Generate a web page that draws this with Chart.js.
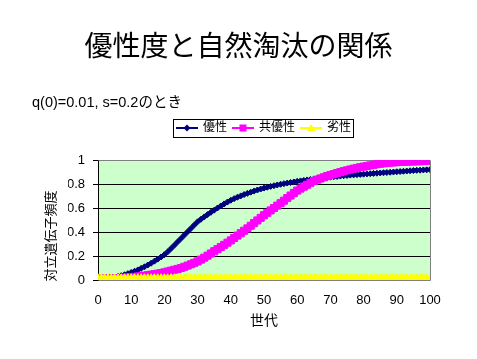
<!DOCTYPE html>
<html><head><meta charset="utf-8">
<script src="https://cdn.jsdelivr.net/npm/chart.js@4.4.1/dist/chart.umd.min.js"></script>
<style>
html,body{margin:0;padding:0;background:#fff;}
#wrap{position:relative;width:477px;height:359px;overflow:hidden;background:#fff;}
#title{position:absolute;left:0;top:30px;width:477px;text-align:center;font-family:"Liberation Sans","Noto Sans CJK JP",sans-serif;font-size:28px;line-height:34px;color:#000;white-space:nowrap;}
#sub{position:absolute;left:32px;top:93px;font-family:"Liberation Sans","Noto Sans CJK JP",sans-serif;font-size:14.5px;line-height:18px;color:#000;white-space:nowrap;}
canvas{position:absolute;left:0;top:0;}
</style></head><body>
<div id="wrap"><canvas id="c" width="477" height="359"></canvas><div id="title">優性度と自然淘汰の関係</div><div id="sub">q(0)=0.01, s=0.2のとき</div></div>
<script>
const generations = [0,1,2,3,4,5,6,7,8,9,10,11,12,13,14,15,16,17,18,19,20,21,22,23,24,25,26,27,28,29,30,31,32,33,34,35,36,37,38,39,40,41,42,43,44,45,46,47,48,49,50,51,52,53,54,55,56,57,58,59,60,61,62,63,64,65,66,67,68,69,70,71,72,73,74,75,76,77,78,79,80,81,82,83,84,85,86,87,88,89,90,91,92,93,94,95,96,97,98,99,100];
const seriesNames = ['優性','共優性','劣性'];
const dominant = [0.010,0.012,0.014,0.017,0.020,0.025,0.030,0.036,0.044,0.053,0.063,0.073,0.084,0.097,0.110,0.125,0.140,0.157,0.174,0.192,0.211,0.235,0.262,0.290,0.318,0.346,0.374,0.402,0.430,0.458,0.485,0.506,0.526,0.545,0.564,0.582,0.600,0.617,0.634,0.650,0.665,0.678,0.690,0.701,0.712,0.722,0.732,0.741,0.750,0.758,0.766,0.773,0.780,0.786,0.792,0.798,0.803,0.808,0.813,0.817,0.822,0.826,0.830,0.834,0.838,0.842,0.845,0.848,0.851,0.854,0.857,0.860,0.863,0.866,0.869,0.871,0.874,0.876,0.878,0.880,0.882,0.884,0.886,0.888,0.890,0.892,0.894,0.896,0.898,0.900,0.902,0.904,0.906,0.908,0.910,0.912,0.914,0.915,0.917,0.918,0.920];
const codominant = [0.010,0.011,0.012,0.013,0.014,0.015,0.016,0.017,0.019,0.021,0.023,0.026,0.029,0.032,0.036,0.040,0.044,0.049,0.053,0.058,0.064,0.071,0.078,0.085,0.092,0.100,0.110,0.120,0.131,0.143,0.155,0.170,0.186,0.203,0.221,0.240,0.257,0.275,0.293,0.311,0.330,0.350,0.370,0.390,0.410,0.430,0.452,0.474,0.496,0.518,0.540,0.560,0.580,0.600,0.620,0.640,0.661,0.683,0.704,0.725,0.745,0.762,0.778,0.794,0.810,0.825,0.836,0.846,0.856,0.866,0.875,0.883,0.891,0.899,0.907,0.914,0.921,0.928,0.934,0.940,0.945,0.950,0.955,0.960,0.965,0.969,0.973,0.976,0.978,0.980,0.982,0.984,0.985,0.986,0.987,0.988,0.989,0.990,0.991,0.992,0.993];
const recessive = [0.0100,0.0100,0.0100,0.0100,0.0100,0.0101,0.0101,0.0101,0.0101,0.0101,0.0102,0.0102,0.0102,0.0102,0.0102,0.0103,0.0103,0.0103,0.0103,0.0103,0.0104,0.0104,0.0104,0.0104,0.0104,0.0105,0.0105,0.0105,0.0105,0.0105,0.0106,0.0106,0.0106,0.0106,0.0106,0.0107,0.0107,0.0107,0.0107,0.0107,0.0108,0.0108,0.0108,0.0108,0.0108,0.0109,0.0109,0.0109,0.0109,0.0109,0.0110,0.0110,0.0110,0.0110,0.0110,0.0111,0.0111,0.0111,0.0111,0.0111,0.0112,0.0112,0.0112,0.0112,0.0112,0.0113,0.0113,0.0113,0.0113,0.0113,0.0114,0.0114,0.0114,0.0114,0.0114,0.0115,0.0115,0.0115,0.0115,0.0115,0.0116,0.0116,0.0116,0.0116,0.0116,0.0117,0.0117,0.0117,0.0117,0.0117,0.0118,0.0118,0.0118,0.0118,0.0118,0.0119,0.0119,0.0119,0.0119,0.0119,0.0120];
const xTickLabels = ['0','10','20','30','40','50','60','70','80','90','100'];
const yTickLabels = ['0','0.2','0.4','0.6','0.8','1'];
const xAxisTitle = '世代';
const yAxisTitle = '対立遺伝子頻度';

const FONT = '"Liberation Sans", "Noto Sans CJK JP", sans-serif';
const colors = ['#000080', '#FF00FF', '#FFFF00'];
const styles = ['rectRot', 'rect', 'triangle'];
const radii = [3, 5, 5];

function toPoints(vals){ return generations.map((g, i) => ({x: g, y: vals[i]})); }

function makeIcon(i){
  const c = document.createElement('canvas');
  c.width = 22; c.height = 10;
  const x = c.getContext('2d');
  x.strokeStyle = colors[i]; x.lineWidth = 2;
  x.beginPath(); x.moveTo(0, 5); x.lineTo(22, 5); x.stroke();
  x.fillStyle = colors[i];
  x.beginPath();
  if (i === 0) { x.moveTo(11, 1.5); x.lineTo(14.5, 5); x.lineTo(11, 8.5); x.lineTo(7.5, 5); }
  else if (i === 1) { x.rect(7.5, 1.5, 7, 7); }
  else { x.moveTo(11, 1); x.lineTo(15, 8); x.lineTo(7, 8); }
  x.closePath(); x.fill();
  return c;
}
const icons = [makeIcon(0), makeIcon(1), makeIcon(2)];

const plotFrame = {
  id: 'plotFrame',
  beforeLayout(chart){
    const lg = chart.legend;
    if (lg && !lg._patchedFit) {
      const orig = lg.fit;
      lg.fit = function(){ orig.call(this); this.height = 44; };
      lg._patchedFit = true;
    }
  },
  beforeDraw(chart){
    const {ctx, chartArea: a} = chart;
    ctx.save();
    ctx.fillStyle = '#CCFFCC';
    ctx.fillRect(a.left, a.top, a.right - a.left, a.bottom - a.top);
    ctx.restore();
  },
  beforeDatasetsDraw(chart){
    const {ctx, chartArea: a} = chart;
    ctx.save();
    ctx.strokeStyle = '#808080'; ctx.lineWidth = 1;
    ctx.beginPath();
    ctx.moveTo(Math.round(a.left) + 0.5, Math.round(a.top) + 0.5);
    ctx.lineTo(Math.round(a.right) + 0.5, Math.round(a.top) + 0.5);
    ctx.lineTo(Math.round(a.right) + 0.5, Math.round(a.bottom) + 0.5);
    ctx.lineTo(Math.round(a.left) + 0.5, Math.round(a.bottom) + 0.5);
    ctx.stroke();
    ctx.restore();
  },
  afterDraw(chart){
    const ctx = chart.ctx;
    const lg = chart.legend;
    if (lg && lg.legendHitBoxes && lg.legendHitBoxes.length) {
      const hb = lg.legendHitBoxes;
      const l = hb[0].left - 4, r = hb[hb.length - 1].left + hb[hb.length - 1].width + 2;
      const t = hb[0].top - 3, b = hb[0].top + hb[0].height + 3;
      ctx.save();
      ctx.strokeStyle = '#000'; ctx.lineWidth = 1;
      ctx.strokeRect(Math.round(l) + 0.5, Math.round(t) + 0.5, Math.round(r - l), Math.round(b - t));
      ctx.restore();
    }
    ctx.save();
    ctx.translate(51, 236);
    ctx.rotate(-Math.PI / 2);
    ctx.font = '13px ' + FONT;
    ctx.fillStyle = '#000';
    ctx.textAlign = 'center';
    ctx.textBaseline = 'middle';
    ctx.fillText(yAxisTitle, 0, 0);
    ctx.restore();
  }
};

const datasets = [dominant, codominant, recessive].map((vals, i) => ({
  label: seriesNames[i],
  data: toPoints(vals),
  borderColor: colors[i],
  backgroundColor: colors[i],
  pointBackgroundColor: colors[i],
  pointBorderColor: colors[i],
  pointStyle: styles[i],
  pointRadius: radii[i],
  pointBorderWidth: 1,
  borderWidth: 2,
  tension: 0,
  order: 2 - i
}));

new Chart(document.getElementById('c'), {
  type: 'line',
  data: { datasets },
  plugins: [plotFrame],
  options: {
    responsive: false,
    animation: false,
    events: [],
    layout: { padding: { left: 68, right: 47, top: 116, bottom: 29 } },
    plugins: {
      title: { display: false },
      tooltip: { enabled: false },
      legend: {
        display: true,
        position: 'top',
        fullSize: false,
        labels: {
          usePointStyle: true,
          pointStyleWidth: 20,
          padding: 6,
          color: '#000',
          font: { family: FONT, size: 12 },
          generateLabels(chart){
            const items = Chart.defaults.plugins.legend.labels.generateLabels(chart);
            items.sort((a, b) => a.datasetIndex - b.datasetIndex);
            items.forEach(it => { it.pointStyle = icons[it.datasetIndex]; it.fontColor = '#000'; });
            return items;
          }
        }
      }
    },
    scales: {
      x: {
        type: 'linear',
        min: 0, max: 100,
        afterFit(s){ s.height = 50; },
        grid: { display: true, drawOnChartArea: false, drawTicks: false },
        border: { display: false },
        ticks: {
          stepSize: 10,
          padding: 13,
          color: '#000',
          font: { family: FONT, size: 13 },
          callback: (v) => xTickLabels[Math.round(v / 10)]
        },
        title: { display: true, text: xAxisTitle, color: '#000', font: { family: FONT, size: 14 }, padding: { top: 0, bottom: 0 } }
      },
      y: {
        min: 0, max: 1,
        afterFit(s){ s.width = 30; },
        grid: {
          color: (c) => (c.tick && c.tick.value >= 0.999) ? 'rgba(0,0,0,0)' : '#000000',
          tickColor: '#000000',
          tickLength: 5,
          lineWidth: 1
        },
        border: { display: true, color: '#000000', width: 1 },
        ticks: {
          stepSize: 0.2,
          padding: 8,
          color: '#000',
          font: { family: FONT, size: 13 },
          callback: (v) => yTickLabels[Math.round(v / 0.2)]
        }
      }
    }
  }
});
</script>
</body></html>
